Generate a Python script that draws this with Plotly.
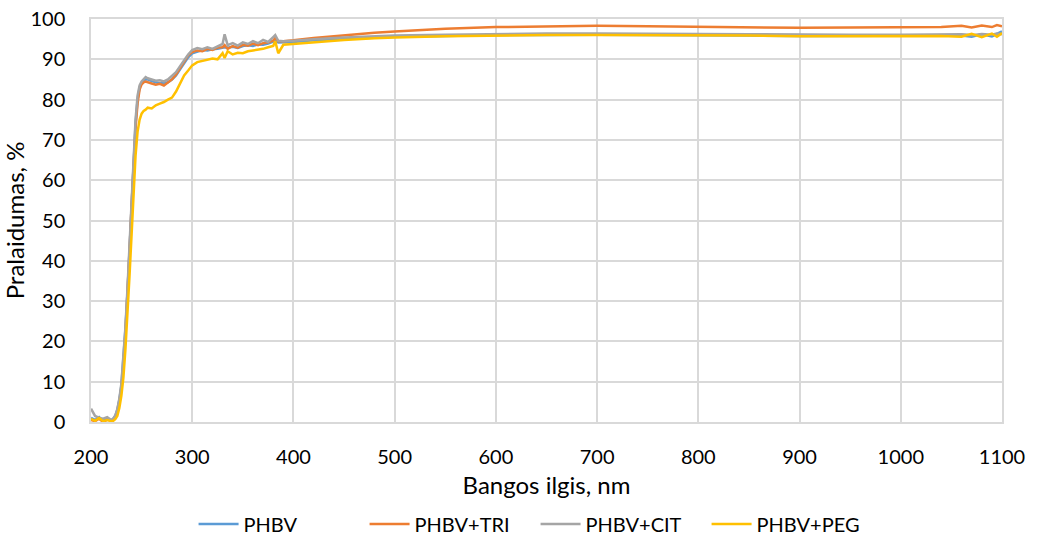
import plotly.graph_objects as go

wavelength = [200, 204, 208, 212, 216, 220, 222, 224, 226, 228, 230, 232, 234, 236, 238, 240, 242, 244, 246, 248,
              250, 252, 254, 256, 260, 264, 268, 272, 276, 280, 284, 288, 292, 296, 300, 305, 310, 315, 320, 325,
              330, 332, 335, 340, 345, 350, 355, 360, 365, 370, 375, 380, 382, 385, 390, 400, 420, 450, 480, 500,
              550, 600, 650, 700, 750, 800, 850, 900, 950, 1000, 1040, 1060, 1070, 1080, 1090, 1095, 1100]

phbv = [1.0, 0.5, 1.2, 0.3, 0.8, 0.4, 0.8, 1.5, 3, 5.5, 9, 15, 23, 32, 43, 54, 65, 74, 80, 83,
        84, 84.8, 85, 85, 84.6, 84.2, 84, 84.2, 84.3, 85, 86, 87.5, 89, 90.5, 91.5, 92, 92.3, 92.2, 92.5, 92.6,
        92.8, 93, 92.9, 93.1, 92.8, 93.3, 93.5, 93.3, 93.7, 93.6, 93.9, 94.3, 94.6, 94.2, 94.2, 94.3, 94.7, 95.1, 95.4, 95.6,
        95.8, 96.0, 96.0, 96.1, 96.0, 96.0, 95.9, 95.8, 95.8, 95.8, 95.8, 95.9, 95.6, 96.2, 95.7, 96.3, 96.9]

phbv_tri = [0.5, 0.2, 0.8, 0.0, 0.6, 0.3, 0.6, 1.2, 2.6, 5, 8.5, 14, 22, 31, 42, 53, 64, 73, 79, 82.5,
            83.8, 84.3, 84.5, 84.3, 84, 83.7, 83.9, 83.5, 84.2, 85.0, 86.2, 87.8, 89.6, 91, 91.8, 92.2, 92.0, 92.6, 92.3, 92.9,
            93.0, 93.5, 92.6, 93.3, 92.9, 93.6, 93.4, 93.9, 93.5, 94.0, 94.2, 94.6, 95.3, 94.5, 94.5, 94.7, 95.3, 96.0, 96.6, 96.9,
            97.6, 98.0, 98.2, 98.3, 98.2, 98.1, 97.9, 97.8, 97.9, 98.0, 98.0, 98.3, 97.9, 98.4, 98.0, 98.5, 98.2]

phbv_cit = [3.3, 1.5, 1.0, 0.8, 1.2, 0.5, 0.9, 1.6, 3.2, 5.8, 9.5, 15.5, 23.5, 33, 44, 55, 66, 75, 81, 83.5,
            84.5, 85.2, 85.6, 85.3, 85.0, 84.7, 84.8, 84.5, 85.0, 85.8, 86.8, 88.3, 89.8, 91.2, 92.3, 92.8, 92.5, 93.0, 92.6, 93.2,
            93.8, 96.2, 93.5, 94.0, 93.4, 94.2, 93.8, 94.5, 94.0, 94.8, 94.3, 95.5, 96.0, 94.6, 94.5, 94.6, 95.0, 95.4, 95.7, 95.9,
            96.1, 96.3, 96.4, 96.4, 96.4, 96.3, 96.2, 96.1, 96.1, 96.1, 96.1, 96.2, 96.0, 96.3, 96.1, 96.4, 96.2]

phbv_peg = [0.8, 0.3, 1.0, 0.2, 0.5, 0.2, 0.3, 0.7, 1.5, 3.5, 6.5, 11, 18, 26, 36, 46, 57, 66, 72, 75,
            76.5, 77.2, 77.5, 78, 77.8, 78.6, 79, 79.4, 80.0, 80.5, 82, 84, 86, 87.2, 88.5, 89.3, 89.6, 89.8, 90.2, 90.0,
            91.5, 90.3, 92.0, 91.2, 91.6, 91.5, 92.0, 92.2, 92.4, 92.6, 93.0, 93.3, 94.5, 91.5, 93.6, 93.8, 94.3, 94.8, 95.2, 95.4,
            95.7, 95.9, 96.0, 96.0, 96.0, 96.0, 95.9, 95.7, 95.7, 95.7, 95.8, 95.6, 96.3, 95.5, 96.4, 95.6, 96.5]

series = [("PHBV", phbv, "#5B9BD5"), ("PHBV+TRI", phbv_tri, "#ED7D31"),
          ("PHBV+CIT", phbv_cit, "#A5A5A5"), ("PHBV+PEG", phbv_peg, "#FFC000")]

font_family = "Lato, 'Open Sans', sans-serif"

fig = go.Figure()
for name, vals, color in series:
    fig.add_trace(go.Scatter(x=wavelength, y=vals, mode="lines", name=name,
                             line=dict(color=color, width=2.5)))

fig.update_layout(
    width=1037, height=539,
    margin=dict(l=91, r=35, t=19, b=117, autoexpand=False),
    paper_bgcolor="white", plot_bgcolor="white",
    font=dict(family=font_family, size=20, color="#000000"),
    showlegend=True,
    legend=dict(orientation="h", x=0.488, xanchor="center", y=-0.205, yanchor="top",
                font=dict(size=20), traceorder="normal", itemwidth=40,
                entrywidth=116, entrywidthmode="pixels"),
    xaxis=dict(range=[200, 1100], dtick=100, tick0=200, showgrid=True, gridcolor="#D9D9D9", gridwidth=1.5,
               zeroline=False, showline=True, linecolor="#D9D9D9", linewidth=1.5, mirror=True,
               ticks="", ticklabelstandoff=16, tickfont=dict(size=20),
               title=dict(text="Bangos ilgis, nm", font=dict(size=24), standoff=10)),
    yaxis=dict(range=[0, 100], dtick=10, showgrid=True, gridcolor="#D9D9D9", gridwidth=1.5,
               zeroline=False, showline=True, linecolor="#D9D9D9", linewidth=1.5, mirror=True,
               ticks="", ticklabelstandoff=20, tickfont=dict(size=20),
               title=dict(text="Pralaidumas, %", font=dict(size=24), standoff=6)),
)

fig.write_html("out.html")
